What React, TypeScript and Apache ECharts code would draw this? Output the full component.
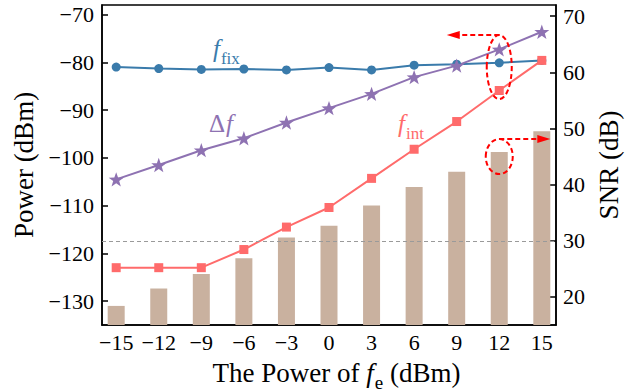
import React, { useEffect, useRef } from 'react';
import * as echarts from 'echarts';

// ---- data ----
const powerLevels = [-15, -12, -9, -6, -3, 0, 3, 6, 9, 12, 15];
const fFixPower = [-81.0, -81.3, -81.5, -81.4, -81.6, -81.1, -81.6, -80.6, -80.4, -80.1, -79.6];
const deltaFPower = [-104.5, -101.5, -98.4, -95.9, -92.6, -89.6, -86.6, -83.1, -80.7, -77.3, -73.6];
const fIntPower = [-123.0, -123.0, -123.0, -119.2, -114.5, -110.4, -104.3, -98.2, -92.4, -85.9, -79.6];
const snrValues = [18.4, 21.5, 24.1, 26.9, 30.6, 32.7, 36.3, 39.6, 42.3, 45.8, 49.5];
const powerTicks = [-130, -120, -110, -100, -90, -80, -70];
const snrTicks = [20, 30, 40, 50, 60, 70];
const snrThreshold = 30;

const FONT_NAME = 'Liberation Serif';
const FONT = '"Liberation Serif", "Times New Roman", serif';
const BLUE = '#3a7bab';
const PURPLE = '#8e72b2';
const RED = '#ff6b6b';
const BAR = '#c9b19f';
const STAR =
  'path://M0,-10 L2.351,-3.236 L9.511,-3.09 L3.804,1.236 L5.878,8.09 L0,4 L-5.878,8.09 L-3.804,1.236 L-9.511,-3.09 L-2.351,-3.236 Z';

const minus = (v: number) => String(v).replace('-', '\u2212');
const pairs = (ys: number[]) => powerLevels.map((x, i) => [x, ys[i]]);

let measureCtx: CanvasRenderingContext2D | null = null;
function textWidth(text: string, fs: number, italic: boolean) {
  if (!measureCtx) measureCtx = document.createElement('canvas').getContext('2d');
  if (!measureCtx) return text.length * fs * 0.5;
  measureCtx.font = `${italic ? 'italic ' : ''}${fs}px "${FONT_NAME}"`;
  return measureCtx.measureText(text).width;
}

// text piece placed by its alphabetic baseline
function piece(text: string, x: number, baseline: number, fs: number, italic: boolean, color: string) {
  return {
    type: 'text',
    x,
    y: baseline - 0.3375 * fs,
    z: 100,
    silent: true,
    style: {
      text,
      fontSize: fs,
      fontFamily: FONT,
      fontStyle: italic ? 'italic' : 'normal',
      fill: color,
      align: 'left',
      verticalAlign: 'middle',
    },
  };
}

export default function App() {
  const ref = useRef<HTMLDivElement>(null);
  useEffect(() => {
    if (!ref.current) return;
    const chart = echarts.init(ref.current, null, { renderer: 'svg' });
    const axisLineStyle = { color: '#000', width: 1.5 };
    const labelStyle = { fontFamily: FONT, fontSize: 22, color: '#000' };
    const option: any = {
      animation: false,
      backgroundColor: '#fff',
      grid: {
        left: 102,
        right: 70,
        top: 5,
        bottom: 67,
        show: true,
        borderColor: '#000',
        borderWidth: 1.5,
        outerBoundsMode: 'none',
      },
      xAxis: [
        {
          type: 'value',
          min: -16,
          max: 16,
          axisLine: { show: true, onZero: false, lineStyle: axisLineStyle },
          axisTick: { show: true, inside: true, length: 6, customValues: powerLevels, lineStyle: axisLineStyle },
          axisLabel: { ...labelStyle, customValues: powerLevels, formatter: minus, margin: 6 },
          splitLine: { show: false },
        },
      ],
      yAxis: [
        {
          type: 'value',
          position: 'left',
          min: -135,
          max: -68,
          axisLine: { show: true, onZero: false, lineStyle: axisLineStyle },
          axisTick: { show: true, inside: true, length: 6, customValues: powerTicks, lineStyle: axisLineStyle },
          axisLabel: { ...labelStyle, customValues: powerTicks, formatter: minus, margin: 8 },
          splitLine: { show: false },
          name: 'Power (dBm)',
          nameLocation: 'middle',
          nameGap: 60,
          nameTextStyle: { fontFamily: FONT, fontSize: 27, color: '#000' },
        },
        {
          type: 'value',
          position: 'right',
          min: 15,
          max: 72,
          axisLine: { show: true, onZero: false, lineStyle: axisLineStyle },
          axisTick: { show: true, inside: true, length: 6, customValues: snrTicks, lineStyle: axisLineStyle },
          axisLabel: { ...labelStyle, customValues: snrTicks, margin: 7 },
          splitLine: { show: false },
          name: 'SNR (dB)',
          nameLocation: 'middle',
          nameGap: 36,
          nameRotate: 90,
          nameTextStyle: { fontFamily: FONT, fontSize: 27, color: '#000' },
        },
      ],
      series: [
        {
          name: 'SNR',
          type: 'bar',
          xAxisIndex: 0,
          yAxisIndex: 1,
          barWidth: 17,
          data: pairs(snrValues),
          itemStyle: { color: BAR },
          clip: true,
          markLine: {
            silent: true,
            symbol: ['none', 'none'],
            label: { show: false },
            lineStyle: { color: '#9a9a9a', type: [4, 3], width: 1 },
            data: [{ yAxis: snrThreshold }],
          },
        },
        {
          name: 'f_fix',
          type: 'line',
          yAxisIndex: 0,
          data: pairs(fFixPower),
          symbol: 'circle',
          symbolSize: 9,
          lineStyle: { color: BLUE, width: 2 },
          itemStyle: { color: BLUE },
        },
        {
          name: 'delta_f',
          type: 'line',
          yAxisIndex: 0,
          data: pairs(deltaFPower),
          symbol: STAR,
          symbolSize: 15,
          symbolKeepAspect: true,
          lineStyle: { color: PURPLE, width: 2 },
          itemStyle: { color: PURPLE },
        },
        {
          name: 'f_int',
          type: 'line',
          yAxisIndex: 0,
          data: pairs(fIntPower),
          symbol: 'rect',
          symbolSize: 9,
          lineStyle: { color: RED, width: 2 },
          itemStyle: { color: RED },
        },
      ],
    };
    chart.setOption(option);

    // annotation anchors from the chart's own scales
    const px = (v: number) => chart.convertToPixel({ xAxisIndex: 0 }, v) as number;
    const pyL = (v: number) => chart.convertToPixel({ yAxisIndex: 0 }, v) as number;
    const pyR = (v: number) => chart.convertToPixel({ yAxisIndex: 1 }, v) as number;
    const e1 = { cx: px(12), cy: pyL(-81), rx: 12.5, ry: 32 };
    const e2 = { cx: px(12), cy: pyR(45), rx: 13.5, ry: 17.5 };
    const a1y = e1.cy - e1.ry;
    const a1tip = px(8.3);
    const a2y = e2.cy - e2.ry;
    const a2tip = px(15.6);
    const dashStyle = { stroke: '#ff0000', lineWidth: 2, lineDash: [5, 3], fill: 'none' };

    // series labels
    const fW = textWidth('f', 25, true);
    const fFixX = 213;
    const fIntX = 398;
    const deltaX = 209;
    const deltaW = textWidth('\u0394', 25, false);
    const SUB = 17;

    // x-axis title, centred as a whole
    const tA = 'The Power of ';
    const tB = ' (dBm)';
    const wA = textWidth(tA, 27, false);
    const wF = textWidth('f', 27, true);
    const wE = textWidth('e', 19, false);
    const wB = textWidth(tB, 27, false);
    const titleStart = 336 - (wA + wF + wE + wB) / 2;
    const titleBase = 382;

    chart.setOption({
      graphic: [
        { type: 'ellipse', shape: e1, style: dashStyle, z: 100 },
        { type: 'ellipse', shape: e2, style: dashStyle, z: 100 },
        { type: 'line', shape: { x1: e1.cx, y1: a1y, x2: a1tip + 12, y2: a1y }, style: dashStyle, z: 100 },
        {
          type: 'polygon',
          shape: { points: [[a1tip, a1y], [a1tip + 13, a1y - 4], [a1tip + 13, a1y + 4]] },
          style: { fill: '#ff0000' },
          z: 100,
        },
        { type: 'line', shape: { x1: e2.cx, y1: a2y, x2: a2tip - 12, y2: a2y }, style: dashStyle, z: 100 },
        {
          type: 'polygon',
          shape: { points: [[a2tip, a2y], [a2tip - 13, a2y - 4], [a2tip - 13, a2y + 4]] },
          style: { fill: '#ff0000' },
          z: 100,
        },
        piece('f', fFixX, 57, 25, true, BLUE),
        piece('fix', fFixX + fW + 1, 64.5, SUB, false, BLUE),
        piece('\u0394', deltaX, 131.7, 25, false, PURPLE),
        piece('f', deltaX + deltaW + 1, 131.7, 25, true, PURPLE),
        piece('f', fIntX, 132, 25, true, RED),
        piece('int', fIntX + fW + 1, 139.3, SUB, false, RED),
        piece(tA, titleStart, titleBase, 27, false, '#000'),
        piece('f', titleStart + wA, titleBase, 27, true, '#000'),
        piece('e', titleStart + wA + wF + 1, titleBase + 7, 19, false, '#000'),
        piece(tB, titleStart + wA + wF + wE + 1, titleBase, 27, false, '#000'),
      ],
    });

    return () => chart.dispose();
  }, []);
  return <div ref={ref} style={{ position: 'absolute', left: 0, top: 0, width: 626, height: 392 }} />;
}
